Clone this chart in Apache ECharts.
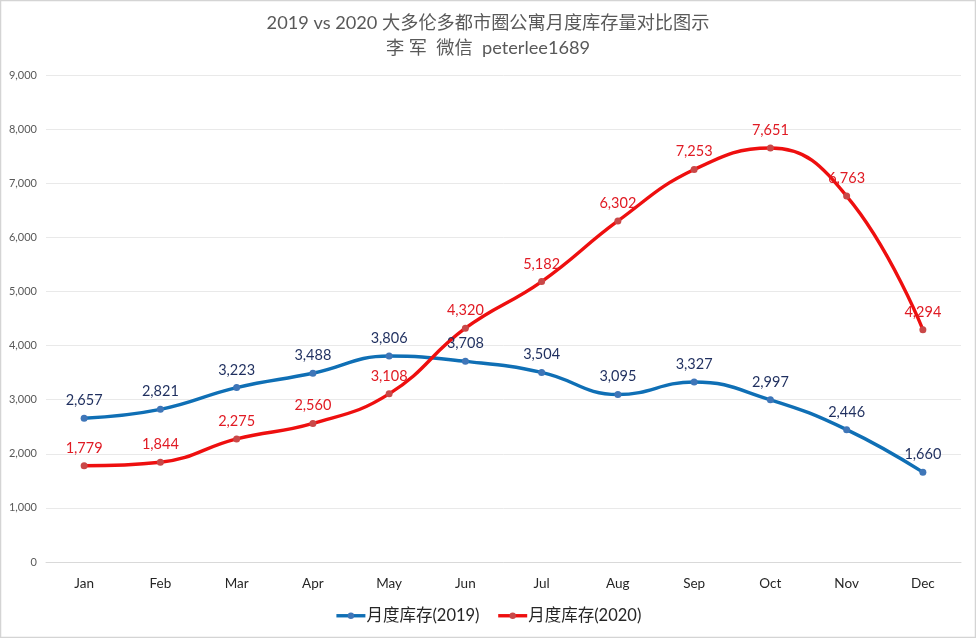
<!DOCTYPE html>
<html>
<head>
<meta charset="utf-8">
<style>
html, body { margin: 0; padding: 0; background: #fff; }
#chart { width: 976px; height: 638px; }
</style>
<script src="https://cdn.jsdelivr.net/npm/echarts@6/dist/echarts.min.js"></script>
</head>
<body>
<div id="chart"></div>
<script>
var months = ['Jan', 'Feb', 'Mar', 'Apr', 'May', 'Jun', 'Jul', 'Aug', 'Sep', 'Oct', 'Nov', 'Dec'];
var values2019 = [2657, 2821, 3223, 3488, 3806, 3708, 3504, 3095, 3327, 2997, 2446, 1660];
var values2020 = [1779, 1844, 2275, 2560, 3108, 4320, 5182, 6302, 7253, 7651, 6763, 4294];
var name2019 = '月度库存(2019)';
var name2020 = '月度库存(2020)';
var titleLines = '2019 vs 2020 大多伦多都市圈公寓月度库存量对比图示\n李 军  微信  peterlee1689';

var fontFamily = 'Lato, "Noto Sans CJK SC", sans-serif';
var chart = echarts.init(document.getElementById('chart'));

function lineSeries(name, values, lineColor, dotColor, labelColor) {
    return {
        name: name,
        type: 'line',
        data: values,
        smooth: 0.45,
        symbol: 'circle',
        symbolSize: 7,
        lineStyle: { color: lineColor, width: 3.4 },
        itemStyle: { color: dotColor },
        label: {
            show: true,
            position: 'top',
            distance: 7,
            color: labelColor,
            fontSize: 14.5,
            fontFamily: fontFamily,
            formatter: function (p) { return p.value.toLocaleString('en-US'); }
        }
    };
}

chart.setOption({
    animation: false,
    backgroundColor: '#fff',
    graphic: [{
        type: 'rect',
        silent: true,
        z: -10,
        shape: { x: 0.5, y: 0.5, width: 975, height: 637 },
        style: { fill: 'none', stroke: '#d4d4d4', lineWidth: 1.5 }
    }],
    title: {
        text: titleLines,
        left: 'center',
        top: 6,
        textStyle: {
            color: '#595959',
            fontSize: 18.2,
            fontWeight: 'normal',
            lineHeight: 25,
            fontFamily: fontFamily
        }
    },
    legend: {
        bottom: 9,
        left: 'center',
        itemWidth: 29,
        itemHeight: 8,
        itemGap: 17,
        lineStyle: { width: 3.4 },
        textStyle: { color: '#262626', fontSize: 16.5, fontFamily: fontFamily, padding: [0, 0, 0, -4] }
    },
    grid: { left: 46, right: 15, top: 75, bottom: 76 },
    xAxis: {
        type: 'category',
        data: months,
        boundaryGap: true,
        axisTick: { show: false },
        axisLine: { lineStyle: { color: '#d9d9d9' } },
        axisLabel: { color: '#262626', fontSize: 13.5, margin: 15, fontFamily: fontFamily }
    },
    yAxis: {
        type: 'value',
        min: 0,
        max: 9000,
        interval: 1000,
        axisLine: { show: false },
        axisTick: { show: false },
        splitLine: { lineStyle: { color: '#e9e9e9' } },
        axisLabel: {
            color: '#595959',
            fontSize: 11,
            margin: 9,
            fontFamily: fontFamily,
            formatter: function (v) { return v.toLocaleString('en-US'); }
        }
    },
    series: [
        lineSeries(name2019, values2019, '#0f6fb5', '#3f76b8', '#1f2f5f'),
        lineSeries(name2020, values2020, '#ee0f0f', '#c94848', '#e01b24')
    ]
});
</script>
</body>
</html>
